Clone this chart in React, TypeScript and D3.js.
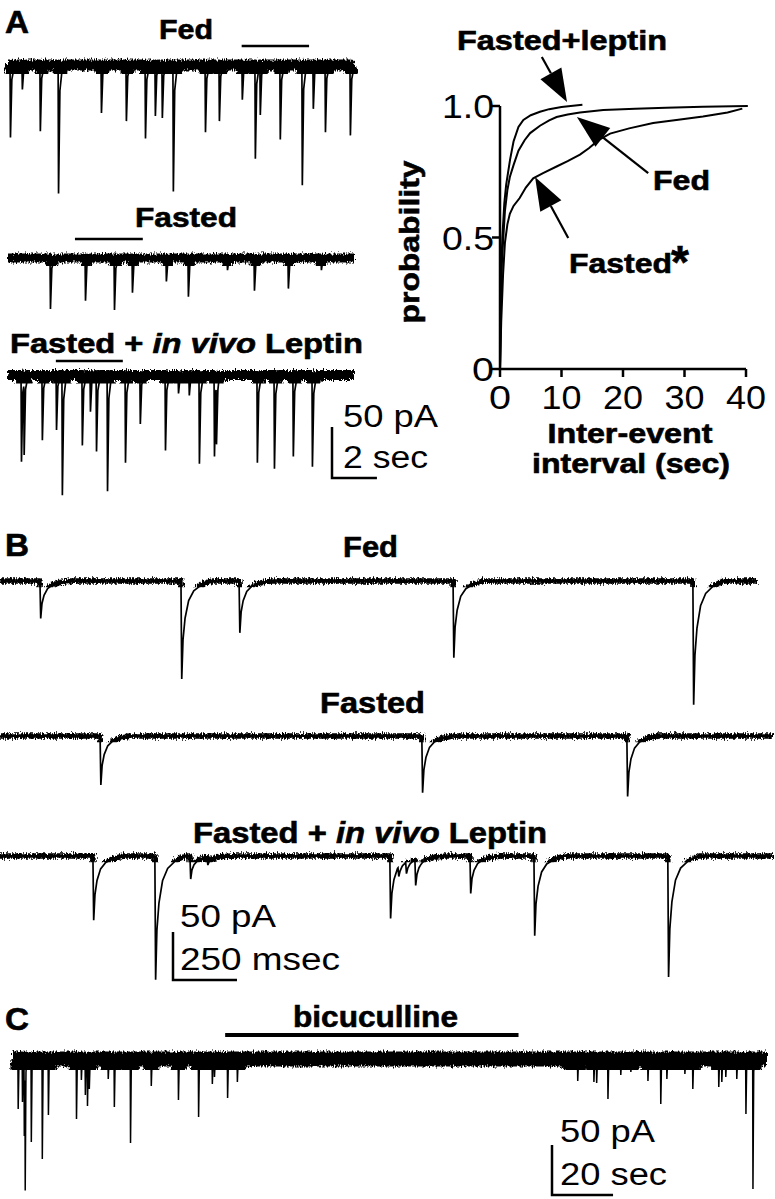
import { useRef, useEffect } from "react"
import * as d3 from "d3"

const FONT = "'Liberation Sans', Arial, Helvetica, sans-serif"

// Panel A traces: [time (s), amplitude (pA)]
const fedA = [
  [0.09, 71], [0.62, 24], [1.42, 65], [2.23, 126], [4.14, 47], [5.25, 55], [6.1, 72],
  [6.54, 50], [6.85, 52], [7.34, 124], [8.77, 66], [9.39, 55], [10.41, 34], [10.99, 92],
  [11.21, 49], [12.1, 73], [13.08, 118], [13.57, 43], [14.11, 66], [15.22, 69],
]
const fastedA = [
  [1.87, 50], [3.43, 42], [4.72, 51], [5.52, 34], [7.03, 23], [8.01, 38], [9.75, 12],
  [10.95, 32], [12.46, 30], [13.93, 12],
]
const leptinA = [
  [0.58, 85], [0.7, 70], [1.51, 64], [2.14, 54], [2.4, 118], [3.29, 69], [3.65, 36],
  [3.92, 75], [4.41, 114], [5.21, 86], [5.87, 48], [6.99, 74], [7.57, 18], [8.05, 20],
  [8.5, 87], [9.17, 80], [9.26, 56], [11.08, 86], [11.84, 92], [12.68, 80], [13.53, 90],
]
// windows expanded in panel B (s)
const fedWindowA = [10.4, 13.4]
const fastedWindowA = [2.98, 6.0]
const leptinWindowA = [2.13, 5.11]

// Panel B traces: [time (ms), amplitude (pA)]
const fedB = [[156, 39], [707, 102], [934, 54], [1770, 80], [2707, 129]]
const fastedB = [[391, 51], [1648, 59], [2449, 63]]
const leptinB = [
  [363, 67], [605, 129], [742, 24], [809, 8], [1523, 65], [1555, 10], [1585, 12],
  [1621, 27], [1836, 39], [2086, 83], [2609, 126],
]

// Panel C trace: [time (s), amplitude (pA)]
const eventsC = [
  [1.6, 50], [3.0, 43], [3.6, 77], [3.9, 125], [5.9, 83], [9.5, 100], [11.5, 56],
  [20.7, 60], [22.3, 21], [23.6, 36], [24.3, 47], [24.9, 30], [31.1, 20], [33.1, 48],
  [38.4, 84], [45.2, 27], [54.1, 41], [60.7, 58], [65.2, 25], [65.9, 18], [70.2, 39],
  [73.4, 23], [182, 6], [184.9, 22], [190.2, 23], [191.1, 24], [192.5, 5], [194.8, 40],
  [199, 16], [202.3, 13], [207.9, 22], [212.1, 45], [214.1, 20], [217.4, 10], [220, 15],
  [222.6, 30], [231.1, 28], [232.1, 23], [233.4, 18], [237, 20], [240, 55], [242.3, 130],
]
const bicucullineWindow = [69.5, 165.6]

// cumulative probability of inter-event interval: [sec, probability]
const cdfFed = [
  [0, 0], [0.15, 0.25], [0.3, 0.4], [0.54, 0.5], [0.8, 0.6], [1.2, 0.68], [1.6, 0.73],
  [2.2, 0.775], [3, 0.83], [4, 0.87], [4.9, 0.897], [6.5, 0.925], [8, 0.945], [9.2, 0.958],
  [11, 0.968], [13, 0.975], [16.8, 0.985], [22, 0.99], [27, 0.993], [33, 0.997], [40.3, 1.0],
]
const cdfFasted = [
  [0, 0], [0.2, 0.18], [0.5, 0.36], [0.8, 0.48], [1.2, 0.55], [1.6, 0.59], [2.2, 0.62],
  [3.2, 0.65], [4.2, 0.69], [5.4, 0.725], [7, 0.745], [9.2, 0.77], [11, 0.79], [13, 0.815],
  [14.5, 0.84], [16, 0.87], [17.9, 0.895], [21, 0.915], [24.9, 0.935], [29, 0.948],
  [33, 0.96], [37, 0.975], [39.4, 0.99],
]
const cdfLeptin = [
  [0, 0], [0.1, 0.3], [0.38, 0.5], [0.7, 0.63], [1.0, 0.7], [1.63, 0.795], [2.2, 0.865],
  [3, 0.92], [3.8, 0.947], [5, 0.965], [6.5, 0.978], [8, 0.988], [10, 0.996], [11.5, 1.0],
  [13.4, 1.005],
]
const cdfXTicks = [0, 10, 20, 30, 40]
const cdfYTicks = [0, 0.5, 1]
const cdfYLabels = ["0", "0.5", "1.0"]
// annotation arrows, tail -> tip in data units
const cdfArrows = [
  { from: [6.8, 1.186], to: [10.9, 1.015] },
  { from: [24.1, 0.745], to: [12.5, 0.958] },
  { from: [11.1, 0.498], to: [5.7, 0.73] },
]

// event waveforms: [time after onset, fraction of peak]
const kernelA = [[0, 0], [0.02, 1], [0.08, 0.2], [0.2, 0]]
const kernelB = [[0, 0], [3, 1], [8, 0.6], [16, 0.38], [30, 0.2], [50, 0.1], [80, 0.04], [120, 0]]
const kernelC = [[0, 0], [0.1, 1], [0.35, 0.1], [0.7, 0]]

function kernelAt(kernel, dt) {
  if (dt < 0 || dt > kernel[kernel.length - 1][0]) return 0
  for (let i = 1; i < kernel.length; i++) {
    if (dt <= kernel[i][0]) {
      const [t0, v0] = kernel[i - 1]
      const [t1, v1] = kernel[i]
      return v0 + ((v1 - v0) * (dt - t0)) / (t1 - t0)
    }
  }
  return 0
}

const App = () => {
  const svgRef = useRef(null)

  useEffect(() => {
    const svg = d3.select(svgRef.current)
    svg.selectAll("*").remove()
    const defs = svg.append("defs")

    // noise texture for the baseline band
    const f = defs.append("filter").attr("id", "noise")
      .attr("x", "-2%").attr("y", "-60%").attr("width", "104%").attr("height", "220%")
    f.append("feTurbulence").attr("type", "fractalNoise").attr("baseFrequency", "0.9 0.3")
      .attr("numOctaves", 2).attr("seed", 4).attr("result", "t")
    f.append("feDisplacementMap").attr("in", "SourceGraphic").attr("in2", "t")
      .attr("scale", 7).attr("xChannelSelector", "G").attr("yChannelSelector", "R")

    const text = (s, x, y, o) => {
      const t = svg.append("text").attr("x", x).attr("y", y)
        .attr("font-family", FONT).attr("font-size", o.size)
        .attr("font-weight", o.bold ? "bold" : "normal")
        .attr("text-anchor", o.anchor || "start")
      if (o.bold) t.attr("stroke", "#000").attr("stroke-width", 0.6)
      if (o.len) t.attr("textLength", o.len).attr("lengthAdjust", "spacingAndGlyphs")
      if (s != null) t.text(s)
      return t
    }

    let clipN = 0
    const drawTrace = (o) => {
      const times = new Set([0, o.tEnd])
      o.events.forEach(([t]) => o.kernel.forEach(([dt]) => {
        const tt = t + dt
        if (tt >= 0 && tt <= o.tEnd) times.add(tt)
      }))
      const ts = Array.from(times).sort((a, b) => a - b)
      const pts = ts.map((t) => [t, d3.sum(o.events, ([te, a]) => a * kernelAt(o.kernel, t - te))])
      const line = d3.line().x((d) => o.x(d[0])).y((d) => o.base + o.amp(d[1]))
      const d = line(pts)
      const [x0, x1] = o.x.range()
      const id = `band${clipN++}`
      defs.append("clipPath").attr("id", id).append("rect")
        .attr("x", x0 - 4).attr("width", x1 - x0 + 8)
        .attr("y", o.base - o.band / 2 - 3.5).attr("height", o.band + 7)
      svg.append("g").attr("clip-path", `url(#${id})`)
        .append("path").attr("d", d).attr("fill", "none").attr("stroke", "#000")
        .attr("stroke-width", o.band).attr("stroke-linejoin", "round").attr("filter", "url(#noise)")
      svg.append("path").attr("d", d).attr("fill", "none").attr("stroke", "#000")
        .attr("stroke-width", o.lw || 1.7)
    }

    const hline = (x1, x2, y, w) => svg.append("line").attr("x1", x1).attr("x2", x2)
      .attr("y1", y).attr("y2", y).attr("stroke", "#000").attr("stroke-width", w)

    const scaleBar = (x, y, amp, dur, ax, aAmp, w) => {
      const t0 = ax.invert(x)
      svg.append("path").attr("fill", "none").attr("stroke", "#000").attr("stroke-width", w)
        .attr("d", `M${x},${y - aAmp(amp)}V${y}H${ax(t0 + dur)}`)
    }

    // ---------- Panel A traces ----------
    const ax = d3.scaleLinear().domain([0, 15.4]).range([8, 354])
    const aAmp = d3.scaleLinear().domain([0, 50]).range([0, 51])
    text("A", 5, 33, { size: 32, bold: true, len: 24 })

    text("Fed", 159, 39, { size: 27, bold: true, len: 54 })
    drawTrace({ events: fedA, kernel: kernelA, tEnd: 15.4, x: ax, amp: aAmp, base: 65, band: 11 })
    hline(ax(fedWindowA[0]), ax(fedWindowA[1]), 46, 2.5)

    text("Fasted", 135, 227, { size: 27, bold: true, len: 102 })
    drawTrace({ events: fastedA, kernel: kernelA, tEnd: 15.4, x: ax, amp: aAmp, base: 258, band: 9 })
    hline(ax(fastedWindowA[0]), ax(fastedWindowA[1]), 239, 2.5)

    const tl = text(null, 10, 353, { size: 27, bold: true, len: 353 })
    tl.append("tspan").text("Fasted + ")
    tl.append("tspan").attr("font-style", "italic").text("in vivo")
    tl.append("tspan").text(" Leptin")
    drawTrace({ events: leptinA, kernel: kernelA, tEnd: 15.4, x: ax, amp: aAmp, base: 375, band: 10 })
    hline(ax(leptinWindowA[0]), ax(leptinWindowA[1]), 361, 2.5)

    scaleBar(332, 478, 50, 2, ax, aAmp, 2.5)
    text("50 pA", 343, 427, { size: 31, len: 95 })
    text("2 sec", 343, 468, { size: 31, len: 85 })

    // ---------- Panel A cumulative probability ----------
    const cx = d3.scaleLinear().domain([0, 40]).range([500, 746])
    const cy = d3.scaleLinear().domain([0, 1]).range([369, 106])
    svg.append("path").attr("fill", "none").attr("stroke", "#000").attr("stroke-width", 2.5)
      .attr("d", `M${cx(0)},${cy(1)}V${cy(0)}H${cx(40)}`)
    cdfYTicks.forEach((v, i) => {
      svg.append("line").attr("x1", cx(0) - 8).attr("x2", cx(0)).attr("y1", cy(v)).attr("y2", cy(v))
        .attr("stroke", "#000").attr("stroke-width", 2.5)
      text(cdfYLabels[i], 494, cy(v) + 12, { size: 33, anchor: "end", len: cdfYLabels[i].length > 1 ? 52 : 22 })
    })
    cdfXTicks.forEach((v) => {
      svg.append("line").attr("x1", cx(v)).attr("x2", cx(v)).attr("y1", cy(0)).attr("y2", cy(0) + 8)
        .attr("stroke", "#000").attr("stroke-width", 2.5)
      text(String(v), cx(v), 409, { size: 33, anchor: "middle", len: v === 0 ? 22 : 40 })
    })
    const cdfLine = d3.line().x((d) => cx(d[0])).y((d) => cy(d[1]))
    ;[cdfFed, cdfFasted, cdfLeptin].forEach((s) => {
      svg.append("path").attr("d", cdfLine(s)).attr("fill", "none").attr("stroke", "#000")
        .attr("stroke-width", 2)
    })

    cdfArrows.forEach((a) => {
      const x1 = cx(a.from[0]), y1 = cy(a.from[1])
      const x2 = cx(a.to[0]), y2 = cy(a.to[1])
      const dx = x2 - x1, dy = y2 - y1
      const L = Math.hypot(dx, dy)
      const ux = dx / L, uy = dy / L
      const hl = 33, hw = 12
      const bx = x2 - ux * hl, by = y2 - uy * hl
      svg.append("line").attr("x1", x1).attr("y1", y1).attr("x2", bx).attr("y2", by)
        .attr("stroke", "#000").attr("stroke-width", 2.2)
      svg.append("path").attr("fill", "#000")
        .attr("d", `M${x2},${y2}L${bx - uy * hw},${by + ux * hw}L${bx + uy * hw},${by - ux * hw}Z`)
    })

    text("Fasted+leptin", 457, 50, { size: 27, bold: true, len: 210 })
    text("Fed", 653, 190, { size: 27, bold: true, len: 57 })
    text("Fasted", 569, 273, { size: 27, bold: true, len: 103 })
    text("*", 671, 278, { size: 46, bold: true })
    text("probability", 0, 0, { size: 27, bold: true, anchor: "middle", len: 163 })
      .attr("transform", "translate(419,242) rotate(-90)")
    text("Inter-event", 630, 443, { size: 27, bold: true, anchor: "middle", len: 165 })
    text("interval (sec)", 631, 473, { size: 27, bold: true, anchor: "middle", len: 198 })

    // ---------- Panel B ----------
    const bx = d3.scaleLinear().domain([0, 3020]).range([0, 773])
    const bAmp = d3.scaleLinear().domain([0, 50]).range([0, 48])
    text("B", 5, 556, { size: 32, bold: true, len: 24 })

    text("Fed", 343, 557, { size: 29, bold: true, len: 55 })
    drawTrace({ events: fedB, kernel: kernelB, tEnd: 2957, x: d3.scaleLinear().domain([0, 2957]).range([0, bx(2957)]), amp: bAmp, base: 581, band: 5.5 })

    text("Fasted", 320, 713, { size: 29, bold: true, len: 105 })
    drawTrace({ events: fastedB, kernel: kernelB, tEnd: 3020, x: bx, amp: bAmp, base: 736, band: 5.5 })

    const tb = text(null, 193, 843, { size: 29, bold: true, len: 354 })
    tb.append("tspan").text("Fasted + ")
    tb.append("tspan").attr("font-style", "italic").text("in vivo")
    tb.append("tspan").text(" Leptin")
    drawTrace({ events: leptinB, kernel: kernelB, tEnd: 3020, x: bx, amp: bAmp, base: 856, band: 5.5 })

    scaleBar(173, 980, 50, 250, bx, bAmp, 2.5)
    text("50 pA", 180, 927, { size: 31, len: 96 })
    text("250 msec", 180, 970, { size: 31, len: 160 })

    // ---------- Panel C ----------
    const ccx = d3.scaleLinear().domain([0, 247]).range([13, 767])
    const cAmp = d3.scaleLinear().domain([0, 50]).range([0, 50])
    text("C", 5, 1030, { size: 32, bold: true, len: 24 })
    text("bicuculline", 293, 1027, { size: 29, bold: true, len: 165 })
    hline(ccx(bicucullineWindow[0]), ccx(bicucullineWindow[1]), 1035, 4)
    drawTrace({ events: eventsC, kernel: kernelC, tEnd: 247, x: ccx, amp: cAmp, base: 1059, band: 15, lw: 1.5 })

    scaleBar(552, 1195, 50, 20, ccx, cAmp, 2.5)
    text("50 pA", 560, 1142, { size: 31, len: 95 })
    text("20 sec", 560, 1185, { size: 31, len: 107 })
  }, [])

  return (
    <svg
      ref={svgRef}
      width={775}
      height={1199}
      style={{ position: "absolute", left: 0, top: 0, background: "#fff" }}
    />
  )
}

export default App
